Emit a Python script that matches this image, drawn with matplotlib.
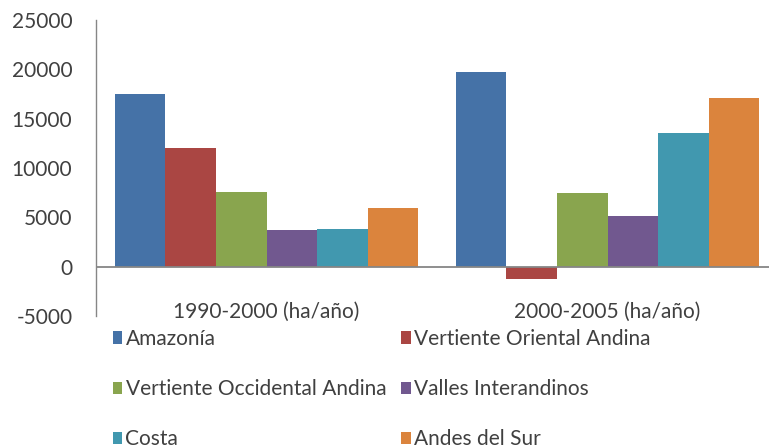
import matplotlib
matplotlib.use("Agg")
import matplotlib.pyplot as plt
import numpy as np

plt.rcParams['font.family'] = ['Lato', 'DejaVu Sans']

periods = ["1990-2000 (ha/año)", "2000-2005 (ha/año)"]
regions = ["Amazonía", "Vertiente Oriental Andina", "Vertiente Occidental Andina",
           "Valles Interandinos", "Costa", "Andes del Sur"]
amazonia = [17500, 19700]
oriental = [12000, -1200]
occidental = [7600, 7450]
valles = [3700, 5100]
costa = [3800, 13500]
andes_sur = [5900, 17050]
series = [amazonia, oriental, occidental, valles, costa, andes_sur]
colors = ["#4572A7", "#AA4643", "#89A54E", "#71588F", "#4198AF", "#DB843D"]
yticks = [-5000, 0, 5000, 10000, 15000, 20000, 25000]

W, H = 769, 448
fig = plt.figure(figsize=(W / 100, H / 100), dpi=100)
ax = fig.add_axes([96 / W, 1 - 316 / H, (W - 96) / W, (316 - 20) / H])

x = np.arange(len(periods))
bw = 50.6 / 341
handles = []
for i, (vals, c) in enumerate(zip(series, colors)):
    h = ax.bar(x + (i - 2.5) * bw, vals, width=bw, color=c, edgecolor='none', zorder=2)
    handles.append(h)

ax.axhline(0, color='#868686', lw=1.3, zorder=3)
ax.set_xlim(-0.5, -0.5 + (W - 96) / 341)
ax.set_ylim(-5000, 25000)
ax.set_yticks(yticks)
ax.set_yticklabels([str(v) for v in yticks])
ax.set_xticks(x)
ax.set_xticklabels(periods)
ax.tick_params(axis='y', length=0, pad=17, labelsize=15, labelcolor='#404040')
ax.tick_params(axis='x', length=0, pad=-10, labelsize=15, labelcolor='#404040')
for s in ['top', 'right', 'bottom']:
    ax.spines[s].set_visible(False)
ax.spines['left'].set_color('#868686')
ax.spines['left'].set_linewidth(1.0)

order = [0, 2, 4, 1, 3, 5]
fig.legend([handles[k] for k in order], [regions[k] for k in order], ncol=2,
           loc='upper left', bbox_to_anchor=(113 / W, 1 - 329 / H), frameon=False,
           fontsize=15, handlelength=0.45, handleheight=0.55, handletextpad=0.15,
           labelspacing=1.45, columnspacing=0.72, borderaxespad=0, borderpad=0,
           labelcolor='#404040')

fig.savefig("out.png", dpi=100)
